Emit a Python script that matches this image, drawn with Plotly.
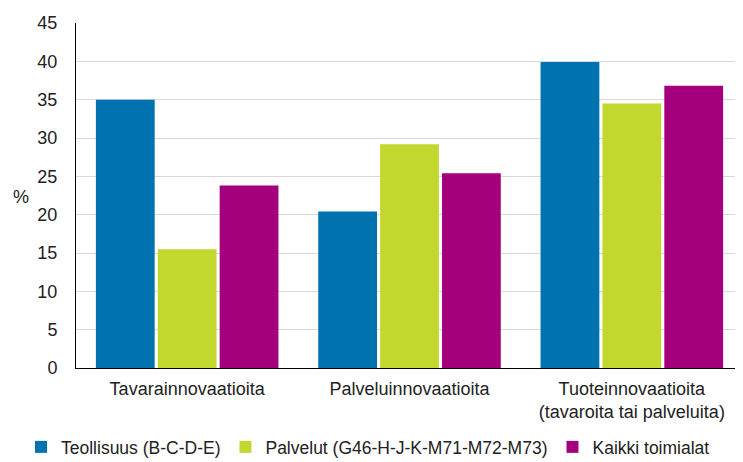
import plotly.graph_objects as go

categories = ["Tavarainnovaatioita", "Palveluinnovaatioita", "Tuoteinnovaatioita<br>(tavaroita tai palveluita)"]
series_names = ["Teollisuus (B-C-D-E)", "Palvelut (G46-H-J-K-M71-M72-M73)", "Kaikki toimialat"]
teollisuus = [35.0, 20.4, 39.9]
palvelut = [15.5, 29.2, 34.5]
kaikki = [23.8, 25.4, 36.8]
colors = ["#0072B0", "#C2D82F", "#A4007E"]
y_ticks = [0, 5, 10, 15, 20, 25, 30, 35, 40, 45]

fig = go.Figure()
for name, vals, col in zip(series_names, [teollisuus, palvelut, kaikki], colors):
    fig.add_trace(go.Bar(x=categories, y=vals, name=name, marker=dict(color=col, line=dict(width=0))))

# page body has an 8px default margin, so the figure is drawn 8px smaller
W, H = 735, 454
L, T, B = 68, 15, 94
PW, PH = W - L, H - T - B
font = dict(family="Liberation Sans, Arial, sans-serif", size=18, color="#222222")
fig.update_layout(
    width=W, height=H,
    margin=dict(l=L, r=0, t=T, b=B, autoexpand=False),
    paper_bgcolor="white", plot_bgcolor="white",
    font=font,
    barmode="group", bargap=0.165, bargroupgap=0.05,
    showlegend=True,
    legend=dict(orientation="h", xref="paper", x=(13 - L) / PW, xanchor="left",
                yref="paper", y=-(439 - (T + PH)) / PH, yanchor="middle",
                font=dict(size=17.5), itemwidth=30, tracegroupgap=0),
    xaxis=dict(showline=True, linecolor="#000000", linewidth=1, ticks="", tickfont=font,
               automargin=False, ticklabelstandoff=4),
    yaxis=dict(range=[0, 45], tickvals=y_ticks, showgrid=True, gridcolor="#D9D9D9", gridwidth=1,
               showline=True, linecolor="#000000", linewidth=1, ticks="", ticklen=0,
               tickfont=font, zeroline=False, automargin=False, ticklabelstandoff=14),
    annotations=[dict(text="%", xref="paper", yref="paper", x=(21 - 76) / 667, y=(368 - 197) / 345,
                      xanchor="center", yanchor="middle", showarrow=False, font=font)],
)
fig.write_html("out.html")
